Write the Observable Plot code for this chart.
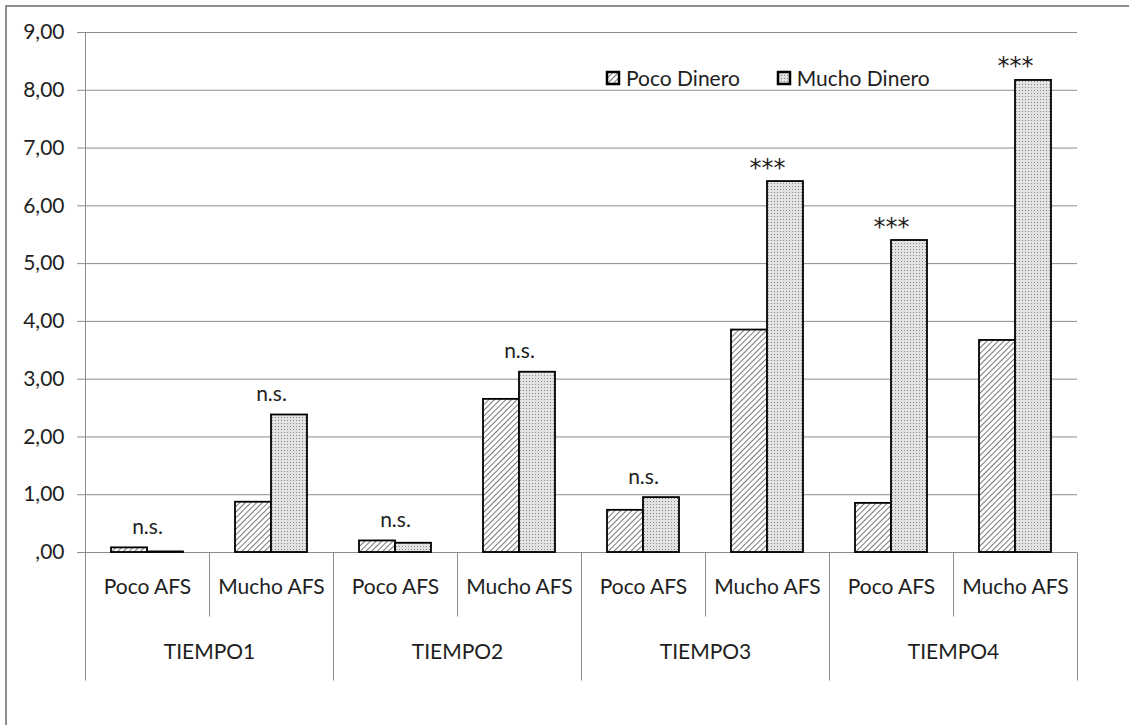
<!DOCTYPE html>
<html>
<head>
<meta charset="utf-8">
<script src="https://cdn.jsdelivr.net/npm/d3@7"></script>
<script src="https://cdn.jsdelivr.net/npm/@observablehq/plot@0.6"></script>
<style>
  html, body { margin: 0; padding: 0; overflow: hidden; background: #fff; }
  #wrap { position: relative; width: 1129px; height: 725px; }
  #border { position: absolute; left: 5px; top: 5px; width: 1200px; height: 800px;
            border: 2px solid #8e8e8e; pointer-events: none; box-sizing: border-box; }
  #legend { position: absolute; left: 607px; top: 61px; }
  .lg-swatches .lg-swatch { margin-right: 38px !important; }
  .lg-swatches .lg-swatch > svg { margin-right: 7px !important; }
  .lg-swatches svg rect { stroke: #000; stroke-width: 2.5px; }
</style>
</head>
<body>
<div id="wrap"><div id="border"></div><div id="legend"></div></div>
<script>
// Groups: four time points, each split by AFS level
const tiempos = ["TIEMPO1", "TIEMPO2", "TIEMPO3", "TIEMPO4"];
const afs = ["Poco AFS", "Mucho AFS"];
const series = ["Poco Dinero", "Mucho Dinero"];

// Mean values per group, in group order (T1 Poco, T1 Mucho, T2 Poco, ...)
const pocoDinero = [0.08, 0.87, 0.20, 2.65, 0.73, 3.85, 0.85, 3.67];
const muchoDinero = [0.01, 2.38, 0.16, 3.12, 0.95, 6.42, 5.40, 8.17];
const significance = ["n.s.", "n.s.", "n.s.", "n.s.", "n.s.", "***", "***", "***"];

const yTicks = [0, 1, 2, 3, 4, 5, 6, 7, 8, 9];
const fills = ["url(#hatch)", "url(#dots)"];

const groups = tiempos.flatMap(t => afs.map(a => ({key: `${t} | ${a}`, tiempo: t, afs: a})));
const keys = groups.map(g => g.key);

const rows = groups.flatMap((g, i) => [
  {key: g.key, serie: series[0], value: pocoDinero[i]},
  {key: g.key, serie: series[1], value: muchoDinero[i]}
]);
const labels = groups.map((g, i) => ({key: g.key, label: significance[i], top: Math.max(pocoDinero[i], muchoDinero[i])}));
const nsLabels = labels.filter(d => d.label === "n.s.");
const starLabels = labels.filter(d => d.label !== "n.s.");

// Separator strokes of the two-level category axis
const line = {draw(context, l) { context.moveTo(0, 0); context.lineTo(0, -l); }};
const sepStyle = {rotate: 180, anchor: "start", shape: line, stroke: "#8c8c8c", strokeWidth: 1, strokeLinecap: "butt"};
const innerEdges = groups.filter(g => g.afs === "Mucho AFS");
const outerEdges = groups.filter(g => g.afs === "Poco AFS");
const lastGroup = groups.slice(-1);

const font = {fontFamily: "Lato, 'Open Sans', sans-serif", fontSize: "21px", color: "#1e1e1e"};

const chart = Plot.plot({
  width: 1129,
  height: 725,
  marginLeft: 84,
  marginRight: 52,
  marginTop: 32,
  marginBottom: 173,
  style: {...font, background: "transparent", overflow: "visible"},
  fx: {domain: keys, padding: 0, axis: null, label: null},
  x: {domain: series, paddingInner: 0, paddingOuter: 0.7, axis: null},
  y: {domain: [0, 9], axis: null},
  color: {domain: series, range: fills},
  marks: [
    Plot.gridY(yTicks, {stroke: "#8c8c8c", strokeOpacity: 1}),
    Plot.axisY(yTicks, {
      tickSize: 8, tickPadding: 13, stroke: "#8c8c8c", fill: "#1e1e1e", label: null,
      tickFormat: d => d === 0 ? ",00" : d.toFixed(2).replace(".", ",")
    }),
    Plot.frame({anchor: "left", facetAnchor: "left", stroke: "#8c8c8c"}),
    Plot.ruleY([0], {stroke: "#8c8c8c"}),
    Plot.barY(rows, {fx: "key", x: "serie", y: "value", fill: "serie", stroke: "#000", strokeWidth: 1.8}),
    Plot.text(nsLabels, {fx: "key", y: "top", text: "label", lineAnchor: "bottom", dy: -14}),
    Plot.text(starLabels, {fx: "key", y: "top", text: "label", lineAnchor: "bottom", dy: -6,
      fontFamily: "'DejaVu Sans', sans-serif", fontSize: 24}),
    Plot.text(groups, {fx: "key", text: "afs", frameAnchor: "bottom", lineAnchor: "middle", dy: 35}),
    Plot.text(outerEdges, {fx: "key", text: "tiempo", frameAnchor: "bottom-right", textAnchor: "middle", lineAnchor: "middle", dy: 100}),
    Plot.vector(innerEdges, {fx: "key", frameAnchor: "bottom-left", length: 64, ...sepStyle}),
    Plot.vector(outerEdges, {fx: "key", frameAnchor: "bottom-left", length: 128, ...sepStyle}),
    Plot.vector(lastGroup, {fx: "key", frameAnchor: "bottom-right", length: 128, ...sepStyle})
  ]
});

// Fill patterns for the two series
chart.insertAdjacentHTML("afterbegin", `
  <defs>
    <pattern id="hatch" patternUnits="userSpaceOnUse" width="4" height="4" patternTransform="rotate(45)">
      <rect width="4" height="4" fill="#fff"></rect>
      <line x1="0" y1="0" x2="0" y2="4" stroke="#4a4a4a" stroke-width="1.5"></line>
    </pattern>
    <pattern id="dots" patternUnits="userSpaceOnUse" width="3" height="3">
      <rect width="3" height="3" fill="#e2e2e2"></rect>
      <rect width="1" height="1" fill="#8a8a8a"></rect>
    </pattern>
  </defs>`);

const wrap = document.getElementById("wrap");
wrap.insertBefore(chart, wrap.firstChild);

const legend = Plot.legend({
  color: {domain: series, range: fills},
  swatchSize: 12,
  className: "lg",
  style: font
});
document.getElementById("legend").appendChild(legend);
</script>
</body>
</html>
